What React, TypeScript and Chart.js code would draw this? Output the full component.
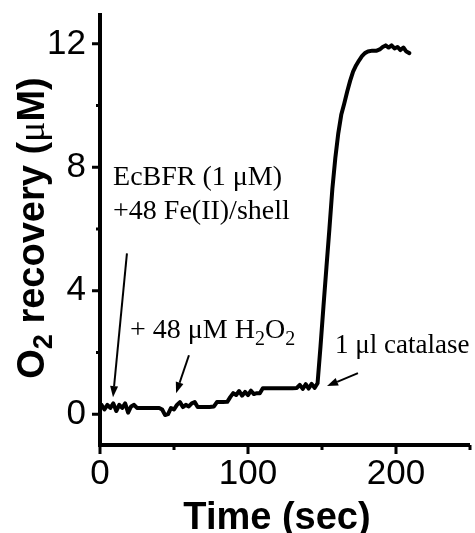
import React, { useEffect, useRef } from "react";
import { Chart, registerables } from "chart.js";
Chart.register(...registerables);

const timeSec = [0, 1, 3, 5, 7, 9, 11, 13, 15, 17, 19, 21, 23, 25, 28, 32, 36, 40, 42, 44, 46, 48, 50, 52, 54, 56, 58, 60, 62, 64, 66, 70, 74, 77, 79, 83, 86, 88, 90, 92, 94, 96, 98, 100, 102, 104, 106, 108, 110, 115, 120, 125, 130, 133, 135, 137, 139, 141, 143, 145, 147, 149, 151, 153, 155, 157, 159, 161, 163, 165, 167, 169, 171, 173, 175, 177, 179, 181, 184, 187, 189, 191, 193, 195, 197, 199, 201, 203, 205, 207, 209];
const o2Values = [0.2, 0.3, 0.15, 0.3, 0.2, 0.35, 0.1, 0.3, 0.2, 0.35, 0.05, 0.25, 0.3, 0.2, 0.2, 0.2, 0.2, 0.2, 0.15, -0.03, 0.0, 0.2, 0.15, 0.3, 0.39, 0.23, 0.3, 0.25, 0.35, 0.39, 0.23, 0.23, 0.23, 0.25, 0.39, 0.39, 0.4, 0.55, 0.68, 0.62, 0.75, 0.6, 0.72, 0.62, 0.76, 0.65, 0.68, 0.68, 0.84, 0.84, 0.84, 0.84, 0.84, 0.85, 0.95, 0.82, 0.97, 0.83, 0.98, 0.85, 1.0, 2.2, 3.5, 4.76, 6.0, 7.3, 8.3, 9.1, 9.7, 10.06, 10.45, 10.8, 11.1, 11.3, 11.46, 11.6, 11.7, 11.75, 11.78, 11.78, 11.82, 11.9, 11.95, 11.88, 11.95, 11.85, 11.9, 11.8, 11.88, 11.75, 11.7];

const xMajorTicks = [0, 100, 200];
const xMinorTicks = [50, 150, 250];
const yMajorTicks = [0, 4, 8, 12];
const yMinorTicks = [2, 6, 10];
const xRange = [0, 250];
const yRange = [-1, 13];

const xTitle = "Time (sec)";
// annotation labels (positions in data units: [time, O2])
const labelEcBFR = "EcBFR (1 μM)";
const labelFe = "+48 Fe(II)/shell";
const labelH2O2 = ["+ 48 μM H", "2", "O", "2"];
const labelCatalase = "1 μl catalase";
const labelAnchors = {
  ecbfr: [8.8, 7.41],
  fe: [8.8, 6.31],
  h2o2: [20.3, 2.47],
  catalase: [158.8, 1.97],
};
const arrows = [
  { from: [18.2, 5.21], to: [8.8, 0.55] },
  { from: [60.1, 1.91], to: [51.4, 0.68] },
  { from: [174.3, 1.33], to: [153.4, 0.91] },
];

const SANS = "'Liberation Sans', Arial, sans-serif";
const SERIF = "'Liberation Serif', 'Times New Roman', serif";

type Run = { text: string; font: string; dy?: number };

function runsWidth(ctx: CanvasRenderingContext2D, runs: Run[]) {
  let w = 0;
  for (const r of runs) {
    ctx.font = r.font;
    w += ctx.measureText(r.text).width;
  }
  return w;
}
function drawRuns(ctx: CanvasRenderingContext2D, runs: Run[], x: number, y: number) {
  let cx = x;
  for (const r of runs) {
    ctx.font = r.font;
    ctx.fillText(r.text, cx, y + (r.dy || 0));
    cx += ctx.measureText(r.text).width;
  }
}

const decorPlugin = {
  id: "decor",
  afterDraw(chart: any) {
    const ctx: CanvasRenderingContext2D = chart.ctx;
    const { left, right, top, bottom } = chart.chartArea;
    const xs = chart.scales.x;
    const ys = chart.scales.y;
    ctx.save();
    ctx.strokeStyle = "#000";
    ctx.fillStyle = "#000";
    // axes
    ctx.lineWidth = 4;
    ctx.beginPath();
    ctx.moveTo(left, top);
    ctx.lineTo(left, bottom + 2);
    ctx.moveTo(left - 2, bottom);
    ctx.lineTo(right, bottom);
    ctx.stroke();
    // ticks
    ctx.lineWidth = 3;
    ctx.beginPath();
    for (const v of yMajorTicks) {
      const p = ys.getPixelForValue(v);
      ctx.moveTo(left - 8, p);
      ctx.lineTo(left, p);
    }
    for (const v of yMinorTicks) {
      const p = ys.getPixelForValue(v);
      ctx.moveTo(left - 4, p);
      ctx.lineTo(left, p);
    }
    for (const v of xMajorTicks) {
      const p = xs.getPixelForValue(v);
      ctx.moveTo(p, bottom);
      ctx.lineTo(p, bottom + 9);
    }
    for (const v of xMinorTicks) {
      const p = xs.getPixelForValue(v);
      ctx.moveTo(p, bottom);
      ctx.lineTo(p, bottom + 5);
    }
    ctx.stroke();

    // axis titles
    ctx.textBaseline = "alphabetic";
    ctx.textAlign = "left";
    const bold = `bold 38px ${SANS}`;
    const xRuns: Run[] = [{ text: xTitle, font: bold }];
    const xw = runsWidth(ctx, xRuns);
    drawRuns(ctx, xRuns, 277 - xw / 2, 529);

    const yRuns: Run[] = [
      { text: "O", font: bold },
      { text: "2", font: `bold 27px ${SANS}`, dy: 8 },
      { text: " recovery (", font: bold },
      { text: "μ", font: `38px ${SERIF}` },
      { text: "M)", font: bold },
    ];
    const yw = runsWidth(ctx, yRuns);
    ctx.save();
    ctx.translate(44, 228);
    ctx.rotate(-Math.PI / 2);
    drawRuns(ctx, yRuns, -yw / 2, 0);
    ctx.restore();

    // annotations
    const px = (a: number[]) => [xs.getPixelForValue(a[0]), ys.getPixelForValue(a[1])];
    const serif = `28px ${SERIF}`;
    const sub = `20px ${SERIF}`;
    let p = px(labelAnchors.ecbfr);
    drawRuns(ctx, [{ text: labelEcBFR, font: serif }], p[0], p[1]);
    p = px(labelAnchors.fe);
    drawRuns(ctx, [{ text: labelFe, font: serif }], p[0], p[1]);
    p = px(labelAnchors.h2o2);
    drawRuns(
      ctx,
      [
        { text: labelH2O2[0], font: serif },
        { text: labelH2O2[1], font: sub, dy: 7 },
        { text: labelH2O2[2], font: serif },
        { text: labelH2O2[3], font: sub, dy: 7 },
      ],
      p[0],
      p[1]
    );
    p = px(labelAnchors.catalase);
    drawRuns(ctx, [{ text: labelCatalase, font: `27px ${SERIF}` }], p[0], p[1]);

    // arrows
    for (const a of arrows) {
      const [x0, y0] = px(a.from);
      const [x1, y1] = px(a.to);
      const ang = Math.atan2(y1 - y0, x1 - x0);
      const hl = 11, hw = 4;
      const bx = x1 - hl * Math.cos(ang);
      const by = y1 - hl * Math.sin(ang);
      ctx.lineWidth = 2;
      ctx.beginPath();
      ctx.moveTo(x0, y0);
      ctx.lineTo(bx, by);
      ctx.stroke();
      ctx.beginPath();
      ctx.moveTo(x1, y1);
      ctx.lineTo(bx + hw * Math.sin(ang), by - hw * Math.cos(ang));
      ctx.lineTo(bx - hw * Math.sin(ang), by + hw * Math.cos(ang));
      ctx.closePath();
      ctx.fill();
    }
    ctx.restore();
  },
};

export default function App() {
  const ref = useRef<HTMLCanvasElement>(null);
  useEffect(() => {
    const canvas = ref.current!;
    const chart = new Chart(canvas, {
      type: "line",
      data: {
        datasets: [
          {
            data: timeSec.map((t, i) => ({ x: t, y: o2Values[i] })),
            borderColor: "#000",
            borderWidth: 4,
            pointRadius: 0,
            tension: 0,
            fill: false,
            borderJoinStyle: "round",
            borderCapStyle: "round",
          },
        ],
      },
      options: {
        animation: false,
        responsive: false,
        maintainAspectRatio: false,
        layout: { padding: { top: 13, right: 5, left: 0, bottom: 0 } },
        plugins: { legend: { display: false }, tooltip: { enabled: false } },
        scales: {
          x: {
            type: "linear",
            min: xRange[0],
            max: xRange[1],
            afterBuildTicks: (s: any) => {
              s.ticks = xMajorTicks.map((v) => ({ value: v }));
            },
            afterFit: (s: any) => {
              s.height = 88;
              s.paddingLeft = 0;
              s.paddingRight = 0;
              s.paddingTop = 0;
              s.paddingBottom = 0;
            },
            grid: { display: false, drawTicks: false },
            border: { display: false },
            ticks: {
              font: { family: "'Liberation Sans', Arial, sans-serif", size: 35 },
              color: "#000",
              padding: 8,
              maxRotation: 0,
              autoSkip: false,
            },
          },
          y: {
            type: "linear",
            min: yRange[0],
            max: yRange[1],
            afterBuildTicks: (s: any) => {
              s.ticks = yMajorTicks.map((v) => ({ value: v }));
            },
            afterFit: (s: any) => {
              s.width = 100;
              s.paddingLeft = 0;
              s.paddingRight = 0;
              s.paddingTop = 0;
              s.paddingBottom = 0;
            },
            grid: { display: false, drawTicks: false },
            border: { display: false },
            ticks: {
              font: { family: "'Liberation Sans', Arial, sans-serif", size: 35 },
              color: "#000",
              padding: 14,
              autoSkip: false,
            },
          },
        },
      } as any,
      plugins: [decorPlugin],
    });
    return () => chart.destroy();
  }, []);
  return (
    <div style={{ position: "fixed", left: 0, top: 0, width: 475, height: 533, background: "#fff" }}>
      <canvas ref={ref} width={475} height={533} style={{ width: 475, height: 533, display: "block" }} />
    </div>
  );
}
